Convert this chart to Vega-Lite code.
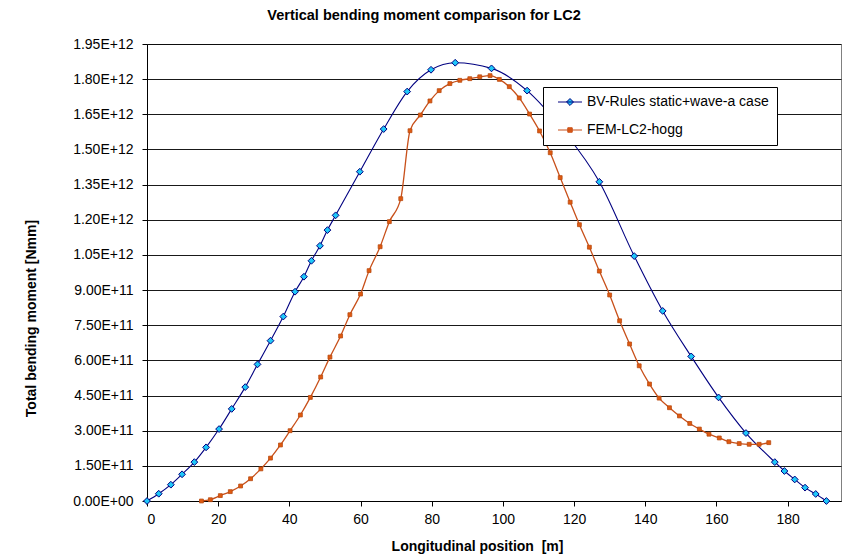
{
  "$schema": "https://vega.github.io/schema/vega-lite/v6.json",
  "width": 694,
  "height": 457,
  "autosize": {"type": "none"},
  "padding": {"left": 147, "top": 44, "right": 2, "bottom": 54},
  "background": "white",
  "title": {
    "text": "Vertical bending moment comparison for LC2",
    "font": "Liberation Sans",
    "fontSize": 14.5,
    "fontWeight": "bold",
    "color": "black",
    "anchor": "middle",
    "frame": "group",
    "dx": -70,
    "offset": 14
  },
  "config": {
    "font": "Liberation Sans",
    "view": {"stroke": "#808080", "strokeWidth": 1},
    "axis": {
      "labelFont": "Liberation Sans",
      "labelFontSize": 14,
      "labelColor": "black",
      "titleFont": "Liberation Sans",
      "titleFontSize": 14,
      "titleFontWeight": "bold",
      "titleColor": "black",
      "domainColor": "black",
      "tickColor": "black",
      "tickSize": 5,
      "gridColor": "black",
      "gridOpacity": 0.9
    },
    "legend": {
      "title": null,
      "orient": "none",
      "legendX": 396,
      "legendY": 43,
      "direction": "vertical",
      "fillColor": "white",
      "strokeColor": "black",
      "padding": 8,
      "labelFont": "Liberation Sans",
      "labelFontSize": 14,
      "labelColor": "black",
      "labelLimit": 300,
      "labelOffset": 10,
      "rowPadding": 14,
      "symbolSize": 144,
      "symbolOffset": 12,
      "symbolStrokeWidth": 1
    }
  },
  "datasets": {
    "bv": [
      {"x": 0, "y": 0}, {"x": 3.3, "y": 3.1e10}, {"x": 6.7, "y": 6.96e10}, {"x": 9.85, "y": 1.14e11},
      {"x": 13.3, "y": 1.66e11}, {"x": 16.6, "y": 2.29e11}, {"x": 20.25, "y": 3.07e11}, {"x": 23.8, "y": 3.93e11},
      {"x": 27.6, "y": 4.86e11}, {"x": 31.05, "y": 5.83e11}, {"x": 34.7, "y": 6.84e11}, {"x": 38.3, "y": 7.87e11},
      {"x": 41.6, "y": 8.93e11}, {"x": 44.1, "y": 9.57e11}, {"x": 46.2, "y": 1.025e12}, {"x": 48.6, "y": 1.089e12},
      {"x": 50.7, "y": 1.156e12}, {"x": 53.0, "y": 1.219e12}, {"x": 59.8, "y": 1.405e12}, {"x": 66.5, "y": 1.587e12},
      {"x": 73.1, "y": 1.747e12}, {"x": 79.8, "y": 1.84e12}, {"x": 86.6, "y": 1.87e12}, {"x": 96.8, "y": 1.846e12},
      {"x": 106.8, "y": 1.751e12}, {"x": 117.0, "y": 1.58e12}, {"x": 127.1, "y": 1.362e12}, {"x": 136.9, "y": 1.045e12},
      {"x": 144.9, "y": 8.11e11}, {"x": 152.9, "y": 6.17e11}, {"x": 160.6, "y": 4.42e11}, {"x": 168.3, "y": 2.9e11},
      {"x": 176.4, "y": 1.66e11}, {"x": 179.1, "y": 1.28e11}, {"x": 182.0, "y": 9.2e10}, {"x": 184.9, "y": 5.7e10},
      {"x": 187.9, "y": 3.0e10}, {"x": 190.9, "y": 0}
    ],
    "fem": [
      {"x": 15.3, "y": 0}, {"x": 17.8, "y": 5.5e9}, {"x": 20.6, "y": 2.3e10}, {"x": 23.4, "y": 4.0e10},
      {"x": 26.3, "y": 6.4e10}, {"x": 29.1, "y": 9.5e10}, {"x": 32.0, "y": 1.37e11}, {"x": 34.7, "y": 1.83e11},
      {"x": 37.5, "y": 2.39e11}, {"x": 40.2, "y": 3.0e11}, {"x": 43.1, "y": 3.67e11}, {"x": 45.9, "y": 4.42e11},
      {"x": 48.8, "y": 5.29e11}, {"x": 51.4, "y": 6.14e11}, {"x": 54.4, "y": 7.04e11}, {"x": 57.0, "y": 7.95e11},
      {"x": 60.0, "y": 8.83e11}, {"x": 62.4, "y": 9.83e11}, {"x": 65.5, "y": 1.085e12}, {"x": 68.1, "y": 1.192e12},
      {"x": 71.3, "y": 1.29e12}, {"x": 73.9, "y": 1.58e12}, {"x": 76.8, "y": 1.647e12}, {"x": 79.5, "y": 1.707e12},
      {"x": 82.1, "y": 1.751e12}, {"x": 85.1, "y": 1.781e12}, {"x": 87.9, "y": 1.795e12}, {"x": 90.7, "y": 1.802e12},
      {"x": 93.5, "y": 1.81e12}, {"x": 96.4, "y": 1.815e12}, {"x": 99.0, "y": 1.799e12}, {"x": 101.8, "y": 1.768e12},
      {"x": 104.6, "y": 1.72e12}, {"x": 107.5, "y": 1.651e12}, {"x": 110.3, "y": 1.579e12}, {"x": 113.3, "y": 1.486e12},
      {"x": 116.1, "y": 1.38e12}, {"x": 118.9, "y": 1.275e12}, {"x": 121.5, "y": 1.179e12}, {"x": 124.3, "y": 1.083e12},
      {"x": 127.1, "y": 9.81e11}, {"x": 130.0, "y": 8.79e11}, {"x": 132.8, "y": 7.69e11}, {"x": 135.6, "y": 6.7e11},
      {"x": 138.3, "y": 5.77e11}, {"x": 141.2, "y": 4.99e11}, {"x": 143.9, "y": 4.39e11}, {"x": 146.8, "y": 3.98e11},
      {"x": 149.6, "y": 3.63e11}, {"x": 152.5, "y": 3.31e11}, {"x": 155.2, "y": 3.07e11}, {"x": 157.9, "y": 2.85e11},
      {"x": 160.8, "y": 2.69e11}, {"x": 163.5, "y": 2.53e11}, {"x": 166.4, "y": 2.45e11}, {"x": 169.2, "y": 2.42e11},
      {"x": 172.0, "y": 2.42e11}, {"x": 174.7, "y": 2.49e11}
    ]
  },
  "encoding": {
    "x": {
      "field": "x",
      "type": "quantitative",
      "scale": {"domain": [0, 195], "nice": false, "zero": false},
      "axis": {
        "title": "Longitudinal position\u00a0 [m]",
        "values": [0, 20, 40, 60, 80, 100, 120, 140, 160, 180],
        "grid": false,
        "labelPadding": 6,
        "titleX": 330,
        "titleY": 49,
        "titleBaseline": "alphabetic",
        "titleAnchor": "middle"
      }
    },
    "y": {
      "field": "y",
      "type": "quantitative",
      "scale": {"domain": [0, 1.95e12], "nice": false},
      "axis": {
        "title": "Total bending moment [Nmm]",
        "values": [0, 1.5e11, 3.0e11, 4.5e11, 6.0e11, 7.5e11, 9.0e11, 1.05e12, 1.2e12, 1.35e12, 1.5e12, 1.65e12, 1.8e12, 1.95e12],
        "labelExpr": "datum.value == 0 ? '0.00E+00' : replace(format(datum.value, '.2e'), 'e', 'E')",
        "labelPadding": 9,
        "grid": true,
        "titleX": -116,
        "titleY": 274,
        "titleBaseline": "middle",
        "titleAnchor": "middle",
        "titleAngle": -90
      }
    }
  },
  "layer": [
    {
      "data": {"name": "bv"},
      "mark": {"type": "line", "interpolate": "monotone", "stroke": "#000080", "strokeWidth": 1.1},
      "encoding": {}
    },
    {
      "data": {"name": "fem"},
      "mark": {"type": "line", "interpolate": "monotone", "stroke": "#c8501a", "strokeWidth": 1.3},
      "encoding": {}
    },
    {
      "data": {"name": "bv"},
      "mark": {"type": "point", "shape": "diamond", "filled": false, "size": 46, "strokeWidth": 1, "opacity": 1, "fill": "#1ec8f8", "stroke": "#000080"}
    },
    {
      "data": {"name": "fem"},
      "mark": {"type": "point", "shape": "square", "filled": false, "size": 15, "strokeWidth": 0.8, "opacity": 1, "fill": "#e05a10", "stroke": "#b84a10"}
    },
    {
      "data": {"name": "bv"},
      "transform": [{"filter": "false"}, {"calculate": "'BV-Rules static+wave-a case'", "as": "series"}],
      "mark": {"type": "point", "filled": false, "opacity": 1, "strokeWidth": 1},
      "encoding": {
        "shape": {
          "field": "series", "type": "nominal",
          "scale": {"domain": ["BV-Rules static+wave-a case", "FEM-LC2-hogg"], "range": ["M-2,0H2M0,-0.58L0.58,0L0,0.58L-0.58,0Z", "M-2,0H2M-0.37,-0.37H0.37V0.37H-0.37Z"]}
        },
        "fill": {"field": "series", "type": "nominal", "scale": {"domain": ["BV-Rules static+wave-a case", "FEM-LC2-hogg"], "range": ["#1ec8f8", "#e05a10"]}},
        "stroke": {"field": "series", "type": "nominal", "scale": {"domain": ["BV-Rules static+wave-a case", "FEM-LC2-hogg"], "range": ["#000080", "#c8501a"]}}
      }
    }
  ]
}
